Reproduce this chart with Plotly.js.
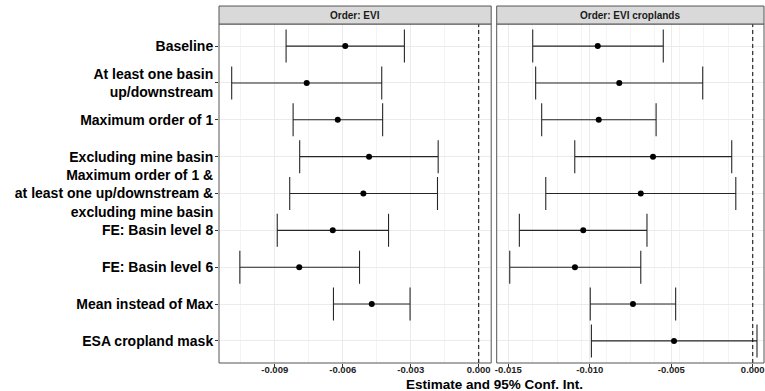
<!DOCTYPE html>
<html>
<head>
<meta charset="utf-8">
<script src="https://cdn.plot.ly/plotly-3.0.1.min.js"></script>
<style>html,body{margin:0;padding:0;background:#fff;}#chart{width:765px;height:391px;}</style>
</head>
<body>
<div id="chart"></div>
<script>
// ---- data ----
const categories = [
  "Baseline",
  "At least one basin<br>up/downstream",
  "Maximum order of 1",
  "Excluding mine basin",
  "Maximum order of 1 &<br>at least one up/downstream &<br>excluding mine basin",
  "FE: Basin level 8",
  "FE: Basin level 6",
  "Mean instead of Max",
  "ESA cropland mask"
];
const panelTitles = ["Order: EVI", "Order: EVI croplands"];

const eviEst  = [-0.00589, -0.00759, -0.00622, -0.00484, -0.00509, -0.00644, -0.00792, -0.00472, null];
const eviLow  = [-0.00850, -0.01090, -0.00819, -0.00790, -0.00834, -0.00889, -0.01054, -0.00641, null];
const eviHigh = [-0.00328, -0.00428, -0.00424, -0.00179, -0.00182, -0.00398, -0.00526, -0.00303, null];

const cropEst  = [-0.00951, -0.00819, -0.00945, -0.00612, -0.00687, -0.01040, -0.01091, -0.00735, -0.00483];
const cropLow  = [-0.01350, -0.01332, -0.01295, -0.01092, -0.01270, -0.01432, -0.01491, -0.00997, -0.00990];
const cropHigh = [-0.00549, -0.00307, -0.00593, -0.00129, -0.00104, -0.00649, -0.00687, -0.00473, 0.00026];

const ticks1 = [-0.009, -0.006, -0.003, 0.000];
const tickLabels1 = ["-0.009", "-0.006", "-0.003", "0.000"];
const ticks2 = [-0.015, -0.010, -0.005, 0.000];
const tickLabels2 = ["-0.015", "-0.010", "-0.005", "0.000"];
const xTitle = "Estimate and 95% Conf. Int.";

// ---- build ----
function diff(a, b) { return a.map((v, i) => (v == null || b[i] == null) ? null : v - b[i]); }

const FONT = "Liberation Sans, Arial, Helvetica, sans-serif";
const barColor = "#262626";

function trace(est, lo, hi, xa) {
  return {
    type: "scatter", mode: "markers", xaxis: xa, yaxis: "y",
    x: est, y: categories,
    marker: {color: "#000", size: 6},
    error_x: {type: "data", symmetric: false, array: diff(hi, est), arrayminus: diff(est, lo),
              color: barColor, thickness: 1.1, width: 16.5},
    hoverinfo: "x+y", showlegend: false, cliponaxis: false
  };
}

const data = [trace(eviEst, eviLow, eviHigh, "x"), trace(cropEst, cropLow, cropHigh, "x2")];

const commonX = {
  type: "linear", tickmode: "array", ticks: "outside", ticklen: 3, tickwidth: 1, tickcolor: "#333",
  showgrid: true, gridcolor: "#EBEBEB", gridwidth: 1, zeroline: false, showline: false,
  tickfont: {family: FONT, size: 9.5, color: "#222", weight: "bold"},
  ticklabelstandoff: -5,
  minor: {showgrid: true, gridcolor: "#F4F4F4", gridwidth: 1, ticks: "", tick0: 0, dtick: 0.0015},
  anchor: "y", fixedrange: true
};

const stripH = 18 / 339.5;
const shapes = [];
const annotations = [];
["x", "x2"].forEach((ax, i) => {
  shapes.push({type: "line", xref: ax, yref: "y domain", x0: 0, x1: 0, y0: 0, y1: 1,
               line: {color: "#000", width: 1, dash: "4px,3px"}, layer: "above"});
  shapes.push({type: "rect", xref: ax + " domain", yref: "y domain", x0: 0, x1: 1, y0: 0, y1: 1,
               line: {color: "#555", width: 1}, fillcolor: "rgba(0,0,0,0)", layer: "above"});
  shapes.push({type: "rect", xref: ax + " domain", yref: "y domain", x0: 0, x1: 1, y0: 1, y1: 1 + stripH,
               line: {color: "#555", width: 1}, fillcolor: "#D9D9D9", layer: "above"});
  annotations.push({xref: ax + " domain", yref: "y domain", x: 0.5, y: 1 + stripH / 2,
                    xanchor: "center", yanchor: "middle", showarrow: false, text: panelTitles[i],
                    font: {family: FONT, size: 10, color: "#1A1A1A", weight: "bold"}});
});
annotations.push({xref: "paper", yref: "paper", x: (494.5 - 219) / 545, y: -(385 - 363.5) / 339.5,
                  xanchor: "center", yanchor: "middle", showarrow: false, text: xTitle,
                  font: {family: FONT, size: 13.5, color: "#000", weight: "bold"}});

const layout = {
  width: 765, height: 391,
  margin: {l: 219, r: 1, t: 24, b: 27.5, pad: 0},
  paper_bgcolor: "#fff", plot_bgcolor: "#fff",
  font: {family: FONT},
  xaxis: Object.assign({}, commonX, {domain: [0, 272.2 / 545], range: [-0.01146, 0.00055],
                         tickvals: ticks1, ticktext: tickLabels1}),
  xaxis2: Object.assign({}, commonX, {domain: [277.7 / 545, 1], range: [-0.01571, 0.00069],
                         tickvals: ticks2, ticktext: tickLabels2}),
  yaxis: {
    type: "category", categoryorder: "array", categoryarray: categories,
    range: [8.6, -0.6], ticks: "outside", ticklen: 3, tickwidth: 1, tickcolor: "#333",
    showgrid: true, gridcolor: "#EBEBEB", gridwidth: 1, zeroline: false, showline: false,
    tickfont: {family: FONT, size: 14, color: "#000", weight: "bold"},
    ticklabelstandoff: -1,
    anchor: "x", fixedrange: true
  },
  shapes: shapes,
  annotations: annotations,
  showlegend: false
};

Plotly.newPlot("chart", data, layout, {displayModeBar: false, staticPlot: true});
</script>
</body>
</html>
